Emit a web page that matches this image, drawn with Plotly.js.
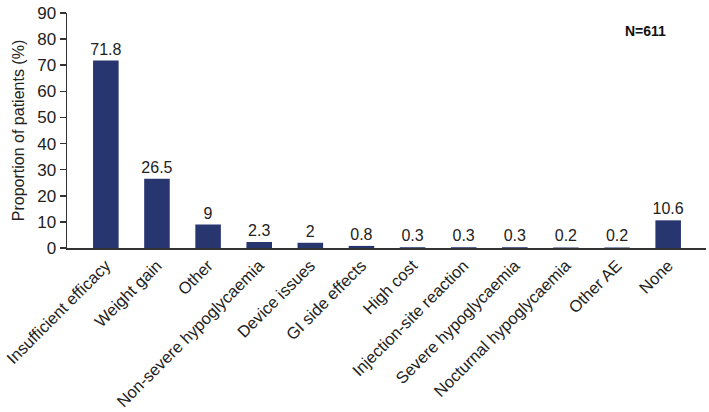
<!DOCTYPE html>
<html>
<head>
<meta charset="utf-8">
<script src="https://cdn.plot.ly/plotly-3.0.1.min.js"></script>
<style>html,body{margin:0;padding:0;background:#fff;}#chart{width:709px;height:412px;}</style>
</head>
<body>
<div id="chart"></div>
<script>
const categories = ["Insufficient efficacy","Weight gain","Other","Non-severe hypoglycaemia","Device issues","GI side effects","High cost","Injection-site reaction","Severe hypoglycaemia","Nocturnal hypoglycaemia","Other AE","None"];
const values = [71.8, 26.5, 9, 2.3, 2, 0.8, 0.3, 0.3, 0.3, 0.2, 0.2, 10.6];
const valueLabels = ["71.8","26.5","9","2.3","2","0.8","0.3","0.3","0.3","0.2","0.2","10.6"];
const yTicks = [0,10,20,30,40,50,60,70,80,90];

const trace = {
  type: "bar",
  x: categories,
  y: values,
  text: valueLabels,
  textposition: "outside",
  constraintext: "none",
  textfont: {family: "Liberation Sans, Arial, sans-serif", size: 16, color: "#222"},
  cliponaxis: false,
  marker: {color: "#283670"},
  width: 0.5,
  hoverinfo: "skip"
};

const layout = {
  width: 709, height: 412,
  margin: {l: 67, r: 3, t: 13, b: 164},
  paper_bgcolor: "#fff", plot_bgcolor: "#fff",
  showlegend: false,
  font: {family: "Liberation Sans, Arial, sans-serif", color: "#222"},
  xaxis: {
    type: "category",
    range: [-0.76, 11.74],
    tickangle: -45,
    tickfont: {size: 16.5, color: "#222"},
    showline: true, linecolor: "#333", linewidth: 1.5,
    ticks: "", showgrid: false, zeroline: false
  },
  yaxis: {
    range: [0, 90],
    tickvals: yTicks,
    ticktext: yTicks.map(String),
    tickfont: {size: 17, color: "#222"},
    ticks: "outside", ticklen: 6, tickcolor: "#333", tickwidth: 1.5,
    showline: true, linecolor: "#333", linewidth: 1.5,
    showgrid: false, zeroline: false,
    title: {text: "Proportion of patients (%)", font: {size: 16, color: "#222"}, standoff: 8}
  },
  annotations: [{
    text: "<b>N=611</b>", xref: "paper", yref: "paper",
    x: 0.905, y: 0.925, xanchor: "center", yanchor: "middle",
    showarrow: false, font: {size: 14, color: "#111"}
  }]
};

Plotly.newPlot("chart", [trace], layout, {displayModeBar: false, staticPlot: true});
</script>
</body>
</html>
